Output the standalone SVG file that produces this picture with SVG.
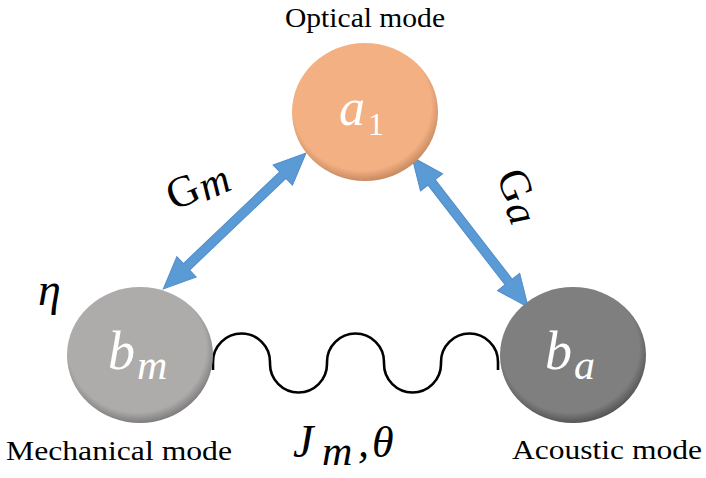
<svg xmlns="http://www.w3.org/2000/svg" width="706" height="478" viewBox="0 0 706 478">
<defs>
<radialGradient id="gO" cx="0.48" cy="0.45" r="0.55">
<stop offset="0.86" stop-color="#F3B083"/>
<stop offset="1" stop-color="#C88A60"/>
</radialGradient>
<radialGradient id="gM" cx="0.48" cy="0.45" r="0.55">
<stop offset="0.86" stop-color="#AEABAB"/>
<stop offset="1" stop-color="#7E7C7C"/>
</radialGradient>
<radialGradient id="gA" cx="0.48" cy="0.45" r="0.55">
<stop offset="0.86" stop-color="#7F7F7F"/>
<stop offset="1" stop-color="#555555"/>
</radialGradient>
<polygon id="arrowL" points="0,0 32,-14 32,-4.5 165,-4.5 165,-14 197,0 165,14 165,4.5 32,4.5 32,14"/>
<polygon id="arrowR" points="0,0 32,-14 32,-4.5 158,-4.5 158,-14 190,0 158,14 158,4.5 32,4.5 32,14"/>
</defs>
<g id="connectors">
<path fill="none" stroke="#000" stroke-width="2.6" d="M213,370 V362 A28.5,28.5 0 0 1 270,362 V364 A28.5,28.5 0 0 0 327,364 V362 A28.5,28.5 0 0 1 384,362 V364 A28.5,28.5 0 0 0 441,364 V362 A28.5,28.5 0 0 1 498,362 V370"/>
<g fill="#5B9BD5" stroke="#4F8CC9" stroke-width="1">
<use href="#arrowL" transform="translate(306,153) rotate(136.4)"/>
<use href="#arrowR" transform="translate(412,157) rotate(52.3)"/>
</g>
</g>
<g id="optical">
<ellipse cx="365" cy="112" rx="73" ry="69" fill="url(#gO)"/>
<text x="339" y="125" font-size="52" font-family="Liberation Serif" font-style="italic" fill="#fff">a</text>
<text x="368" y="135" font-size="32" font-family="Liberation Serif" fill="#fff">1</text>
<text x="285" y="27" font-size="28" font-family="Liberation Serif" textLength="160" lengthAdjust="spacingAndGlyphs">Optical mode</text>
</g>
<g id="mechanical">
<ellipse cx="140" cy="355" rx="73" ry="68" fill="url(#gM)"/>
<text x="108" y="369" font-size="54" font-family="Liberation Serif" font-style="italic" fill="#fff">b</text>
<text x="137" y="379" font-size="42" font-family="Liberation Serif" font-style="italic" fill="#fff">m</text>
<text x="6" y="460" font-size="28" font-family="Liberation Serif" textLength="226" lengthAdjust="spacingAndGlyphs">Mechanical mode</text>
<text x="38" y="305" font-size="46" font-family="Liberation Serif" font-style="italic">η</text>
</g>
<g id="acoustic">
<ellipse cx="573" cy="355" rx="73" ry="68" fill="url(#gA)"/>
<text x="545" y="369" font-size="54" font-family="Liberation Serif" font-style="italic" fill="#fff">b</text>
<text x="574" y="379" font-size="42" font-family="Liberation Serif" font-style="italic" fill="#fff">a</text>
<text x="512" y="459" font-size="28" font-family="Liberation Serif" textLength="190" lengthAdjust="spacingAndGlyphs">Acoustic mode</text>
</g>
<g id="labels">
<g transform="translate(174,211) rotate(-24)">
<text x="0" y="0" font-size="44" font-family="Liberation Serif">G</text>
<text x="33" y="4" font-size="42" font-family="Liberation Serif" font-style="italic">m</text>
</g>
<g transform="translate(496,176) rotate(68)">
<text x="0" y="0" font-size="44" font-family="Liberation Serif">G</text>
<text x="33" y="4" font-size="42" font-family="Liberation Serif" font-style="italic">a</text>
</g>
<text x="293" y="457" font-size="46" font-family="Liberation Serif" font-style="italic">J</text>
<text x="322" y="465" font-size="42" font-family="Liberation Serif" font-style="italic">m</text>
<text x="358" y="457" font-size="44" font-family="Liberation Serif" font-style="italic">,</text>
<text x="372" y="457" font-size="44" font-family="Liberation Serif" font-style="italic">θ</text>
</g>
</svg>
